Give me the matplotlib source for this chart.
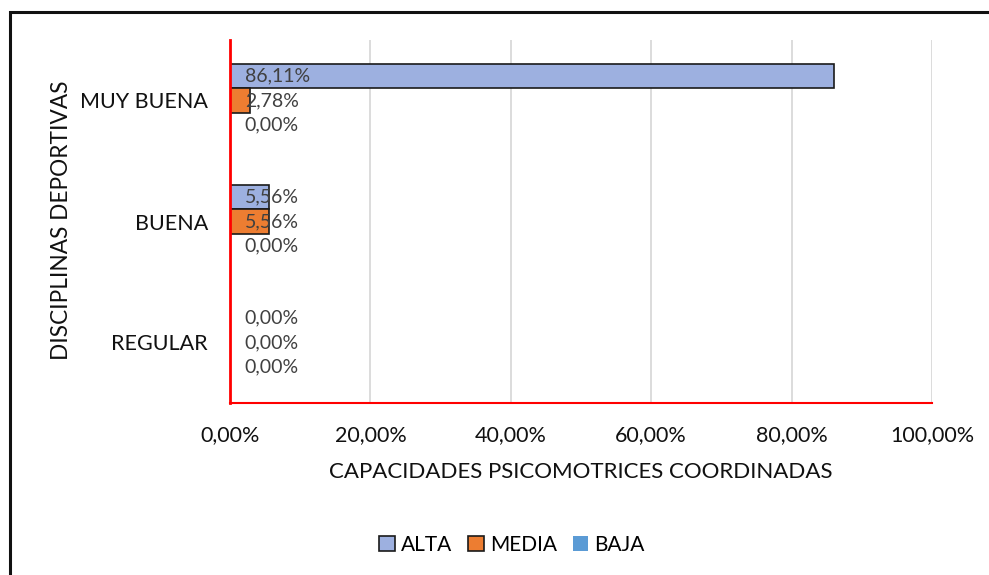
import matplotlib.pyplot as plt
from matplotlib.patches import Rectangle
from matplotlib.ticker import FuncFormatter
import numpy as np

plt.rcParams['font.family'] = ['Lato', 'DejaVu Sans']

categories = ['MUY BUENA', 'BUENA', 'REGULAR']
series = ['ALTA', 'MEDIA', 'BAJA']
alta = [86.11, 5.56, 0.00]
media = [2.78, 5.56, 0.00]
baja = [0.00, 0.00, 0.00]

colors = ['#9DB0E0', '#ED7D31', '#5B9BD5']
edges = ['#1a1a1a', '#1a1a1a', 'none']

fig = plt.figure(figsize=(9.89, 5.75), dpi=100)
W, H = 989, 575
ax = fig.add_axes([230 / W, 1 - 403 / H, (932 - 230) / W, (403 - 40) / H])

# border of the chart area (cut at right and bottom)
fig.patches.append(Rectangle((10 / W, -0.05), 1.05, 1 - 12 / H + 0.05,
                             transform=fig.transFigure, fill=False,
                             edgecolor='#111111', linewidth=2.2))

y = np.arange(len(categories))
bh = 0.2
offs = [-bh, 0, bh]
for vals, name, c, e, o in zip([alta, media, baja], series, colors, edges, offs):
    ax.barh(y + o, vals, height=bh, color=c, edgecolor=e,
            linewidth=1.2 if e != 'none' else 0, label=name, zorder=3)
    for yi, v in zip(y, vals):
        ax.text(2.1, yi + o, f'{v:.2f}%'.replace('.', ','), va='center',
                ha='left', fontsize=14, color='#404040', zorder=4)

ax.set_xlim(0, 100)
ax.set_ylim(2.5, -0.5)
ax.set_xticks(np.arange(0, 101, 20))
ax.xaxis.set_major_formatter(FuncFormatter(lambda v, p: f'{v:.2f}%'.replace('.', ',')))
ax.set_yticks(y)
ax.set_yticklabels(categories)
ax.tick_params(axis='both', length=0, labelsize=15.5, colors='#111111')
ax.tick_params(axis='x', pad=16)
ax.tick_params(axis='y', pad=16)
ax.grid(axis='x', color='#d9d9d9', linewidth=1.3, zorder=0)

for s in ['top', 'right']:
    ax.spines[s].set_visible(False)
ax.spines['left'].set_color('red')
ax.spines['left'].set_linewidth(2)
ax.spines['bottom'].set_color('red')
ax.spines['bottom'].set_linewidth(1.5)
ax.spines['left'].set_zorder(5)

ax.set_xlabel('CAPACIDADES PSICOMOTRICES COORDINADAS', fontsize=16,
              color='#111111', labelpad=12)
fig.text(62 / W, 1 - 220 / H, 'DISCIPLINAS DEPORTIVAS', rotation=90,
         ha='center', va='center', fontsize=16.3, color='#111111')

handles, labels = ax.get_legend_handles_labels()
fig.legend(handles, labels, loc='center', bbox_to_anchor=(512 / W, 1 - 545 / H),
           ncol=3, frameon=False, fontsize=15, handlelength=0.75,
           handleheight=0.75, handletextpad=0.3, columnspacing=0.75)

fig.savefig('out.png', dpi=100, facecolor='white')
